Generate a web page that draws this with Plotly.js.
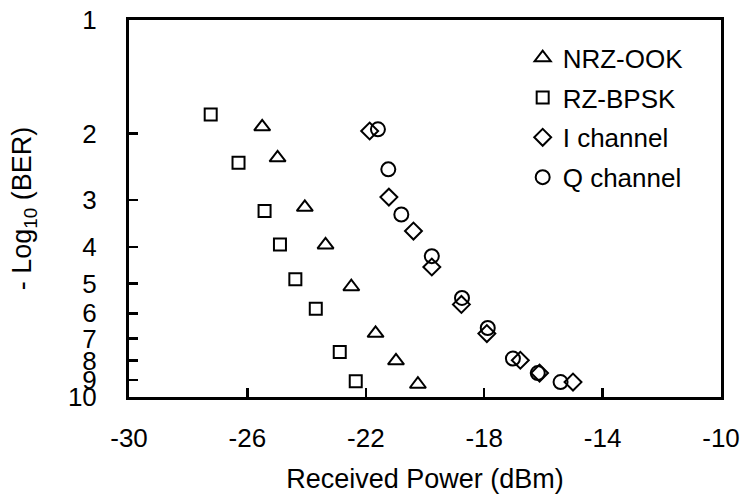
<!DOCTYPE html>
<html>
<head>
<meta charset="utf-8">
<script src="https://cdn.plot.ly/plotly-3.0.1.min.js"></script>
<style>
  html, body { margin: 0; padding: 0; background: #fff; }
  #chart { width: 742px; height: 501px; }
</style>
</head>
<body>
<div id="chart"></div>
<script>
// Received optical power (dBm) and -log10(BER) for each format
const nrzOokPower = [-25.50, -24.98, -24.06, -23.36, -22.49, -21.67, -20.98, -20.24];
const nrzOokBer   = [1.92, 2.32, 3.14, 3.95, 5.10, 6.78, 8.02, 9.25];

const rzBpskPower = [-27.24, -26.30, -25.42, -24.90, -24.38, -23.69, -22.88, -22.34];
const rzBpskBer   = [1.78, 2.39, 3.21, 3.94, 4.87, 5.83, 7.60, 9.08];

const iChPower = [-21.87, -21.22, -20.39, -19.77, -18.77, -17.91, -16.78, -16.13, -15.00];
const iChBer   = [1.97, 2.95, 3.63, 4.52, 5.68, 6.79, 7.99, 8.64, 9.13];

const qChPower = [-21.59, -21.24, -20.80, -19.77, -18.75, -17.88, -17.03, -16.19, -15.42];
const qChBer   = [1.95, 2.49, 3.28, 4.23, 5.46, 6.56, 7.91, 8.64, 9.13];

const seriesNames = ['NRZ-OOK', 'RZ-BPSK', 'I channel', 'Q channel'];

const xTicks = [-30, -26, -22, -18, -14, -10];
const yTicks = [1, 2, 3, 4, 5, 6, 7, 8, 9, 10];

const FONT = 'Liberation Sans, Arial, Helvetica, sans-serif';

function series(name, x, y, symbol, size) {
  return {
    type: 'scatter', mode: 'markers', name: name, x: x, y: y,
    legendgroup: name,
    marker: { symbol: symbol, size: size, color: '#000',
              line: { color: '#000', width: 2 } }
  };
}

const traces = [
  series(seriesNames[0], nrzOokPower, nrzOokBer, 'triangle-up-open', 14),
  series(seriesNames[1], rzBpskPower, rzBpskBer, 'square-open', 12),
  series(seriesNames[2], iChPower, iChBer, 'diamond-open', 13),
  series(seriesNames[3], qChPower, qChBer, 'circle-open', 14)
];

const layout = {
  width: 742, height: 501,
  margin: { l: 129, r: 21, t: 20, b: 104 },
  paper_bgcolor: '#fff', plot_bgcolor: '#fff',
  font: { family: FONT, size: 26, color: '#000' },
  showlegend: true,
  legend: {
    x: 0.665, y: 0.962, xanchor: 'left', yanchor: 'top',
    bgcolor: 'rgba(0,0,0,0)', borderwidth: 0,
    tracegroupgap: 3,
    font: { family: FONT, size: 26, color: '#000' }
  },
  xaxis: {
    range: [-30, -10], tickmode: 'array', tickvals: xTicks,
    ticktext: xTicks.map(String),
    showgrid: false, zeroline: false,
    showline: true, linecolor: '#000', linewidth: 3, mirror: true,
    ticks: 'inside', ticklen: 9, tickwidth: 2.5, tickcolor: '#000',
    ticklabelstandoff: 16,
    tickfont: { family: FONT, size: 26, color: '#000' },
    title: { text: 'Received Power (dBm)', standoff: 17,
             font: { family: FONT, size: 27, color: '#000' } }
  },
  yaxis: {
    type: 'log', range: [1, 0], tickmode: 'array', tickvals: yTicks,
    ticktext: yTicks.map(String),
    showgrid: false, zeroline: false,
    showline: true, linecolor: '#000', linewidth: 3, mirror: true,
    ticks: 'inside', ticklen: 9, tickwidth: 2.5, tickcolor: '#000',
    ticklabelstandoff: 24,
    tickfont: { family: FONT, size: 26, color: '#000' },
    title: { text: '- Log<sub>10</sub> (BER)', standoff: 29,
             font: { family: FONT, size: 27, color: '#000' } }
  }
};

Plotly.newPlot('chart', traces, layout, { displayModeBar: false, staticPlot: true });
</script>
</body>
</html>
